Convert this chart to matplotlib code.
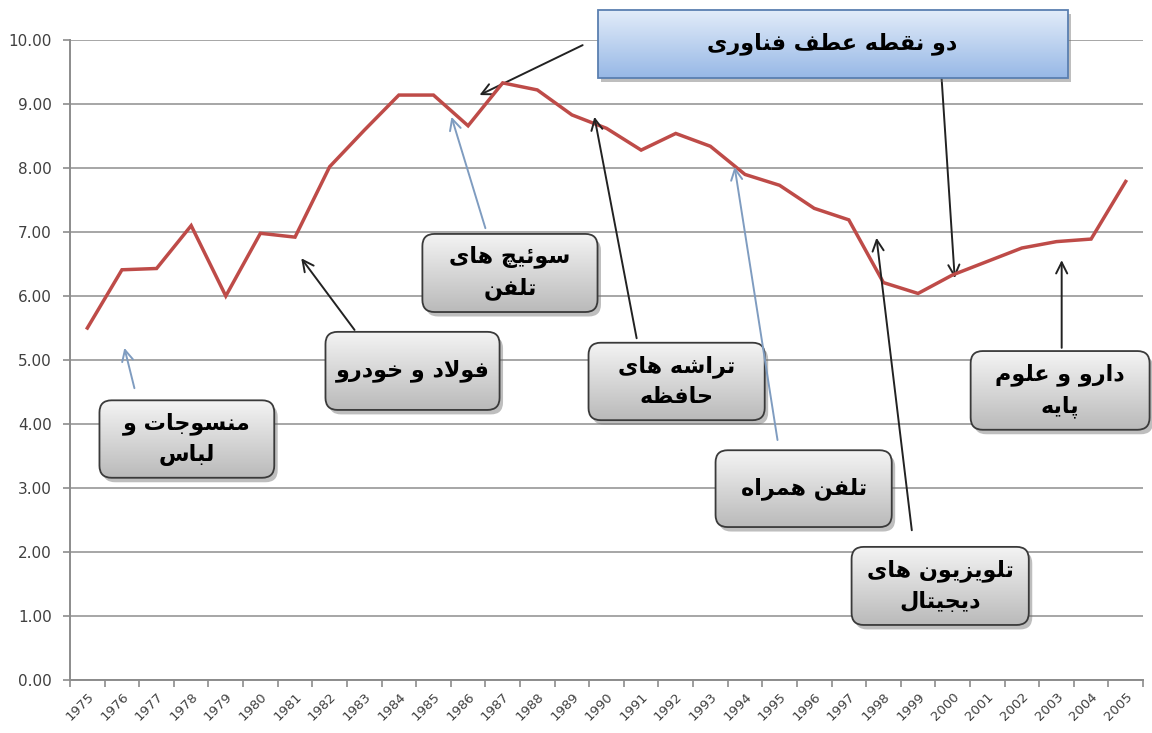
import numpy as np
import matplotlib
matplotlib.use('Agg')
import matplotlib.pyplot as plt
from matplotlib.patches import FancyBboxPatch

# data
years = list(range(1975, 2006))
values = [5.50, 6.41, 6.43, 7.10, 6.00, 6.98, 6.92, 8.02, 8.59, 9.14,
          9.14, 8.66, 9.33, 9.22, 8.83, 8.62, 8.28, 8.54, 8.34, 7.90,
          7.73, 7.37, 7.19, 6.21, 6.04, 6.33, 6.54, 6.75, 6.85, 6.89, 7.79]
y_ticks = [0, 1, 2, 3, 4, 5, 6, 7, 8, 9, 10]

title_label = "دو نقطه عطف فناوری"
labels = ["منسوجات و\nلباس", "فولاد و خودرو", "سوئیچ های\nتلفن", "تراشه های\nحافظه",
          "تلفن همراه", "تلویزیون های\nدیجیتال", "دارو و علوم\nپایه"]

# layout of the callouts (data coords): box (x0, x1, y0, y1), arrow tail, arrow head, arrow colour
BLUE = '#7F9CC0'
boxes = [(1975.35, 1980.40, 3.16, 4.37), (1981.88, 1986.91, 4.22, 5.44),
         (1984.68, 1989.74, 5.75, 6.97), (1989.48, 1994.57, 4.06, 5.27),
         (1993.15, 1998.24, 2.39, 3.59), (1997.08, 2002.20, 0.86, 2.08),
         (2000.52, 2005.69, 3.91, 5.14)]
arrows = [((1976.36, 4.56), (1976.07, 5.19), BLUE), ((1982.72, 5.47), (1981.18, 6.59), '#222222'),
          ((1986.50, 7.06), (1985.52, 8.80), BLUE), ((1990.87, 5.34), (1989.65, 8.80), '#222222'),
          ((1994.94, 3.75), (1993.70, 8.02), BLUE), ((1998.82, 2.34), (1997.80, 6.91), '#222222'),
          ((2003.15, 5.19), (2003.15, 6.56), '#222222')]
title_box = (1989.74, 2003.32, 9.41, 10.47)
title_arrows = [((1989.31, 9.92), (1986.33, 9.14)), ((1999.68, 9.41), (2000.06, 6.28))]

# minimal arabic/persian shaping: (isolated, final, initial, medial)
FORMS = {
    'ا': (0xFE8D, 0xFE8E, None, None), 'ب': (0xFE8F, 0xFE90, 0xFE91, 0xFE92),
    'ت': (0xFE95, 0xFE96, 0xFE97, 0xFE98), 'ج': (0xFE9D, 0xFE9E, 0xFE9F, 0xFEA0),
    'ح': (0xFEA1, 0xFEA2, 0xFEA3, 0xFEA4), 'خ': (0xFEA5, 0xFEA6, 0xFEA7, 0xFEA8),
    'د': (0xFEA9, 0xFEAA, None, None), 'ر': (0xFEAD, 0xFEAE, None, None),
    'ز': (0xFEAF, 0xFEB0, None, None), 'س': (0xFEB1, 0xFEB2, 0xFEB3, 0xFEB4),
    'ش': (0xFEB5, 0xFEB6, 0xFEB7, 0xFEB8), 'ط': (0xFEC1, 0xFEC2, 0xFEC3, 0xFEC4),
    'ظ': (0xFEC5, 0xFEC6, 0xFEC7, 0xFEC8), 'ع': (0xFEC9, 0xFECA, 0xFECB, 0xFECC),
    'ف': (0xFED1, 0xFED2, 0xFED3, 0xFED4), 'ق': (0xFED5, 0xFED6, 0xFED7, 0xFED8),
    'ل': (0xFEDD, 0xFEDE, 0xFEDF, 0xFEE0), 'م': (0xFEE1, 0xFEE2, 0xFEE3, 0xFEE4),
    'ن': (0xFEE5, 0xFEE6, 0xFEE7, 0xFEE8), 'ه': (0xFEE9, 0xFEEA, 0xFEEB, 0xFEEC),
    'و': (0xFEED, 0xFEEE, None, None), 'ئ': (0xFE89, 0xFE8A, 0xFE8B, 0xFE8C),
    'ی': (0xFBFC, 0xFBFD, 0xFBFE, 0xFBFF), 'پ': (0xFB56, 0xFB57, 0xFB58, 0xFB59),
    'چ': (0xFB7A, 0xFB7B, 0xFB7C, 0xFB7D),
}


def dual(c):
    return c in FORMS and FORMS[c][2] is not None


def shape_line(line):
    out = []
    i = 0
    n = len(line)
    while i < n:
        c = line[i]
        if c not in FORMS:
            out.append(c)
            i += 1
            continue
        join_prev = i > 0 and dual(line[i - 1])
        if c == 'ل' and i + 1 < n and line[i + 1] == 'ا':
            out.append(chr(0xFEFC if join_prev else 0xFEFB))
            i += 2
            continue
        join_next = dual(c) and i + 1 < n and line[i + 1] in FORMS
        iso, fin, ini, med = FORMS[c]
        if join_prev and join_next:
            g = med
        elif join_prev:
            g = fin
        elif join_next:
            g = ini
        else:
            g = iso
        out.append(chr(g))
        i += 1
    # matplotlib lays glyphs out left to right, so give it visual order
    return ''.join(reversed(out))


def shape(text):
    return '\n'.join(shape_line(l) for l in text.split('\n'))


def gradient_box(ax, x0, x1, y0, y1, top, bottom, edge, rounded=True):
    style = 'round,pad=0,rounding_size=0.35' if rounded else 'square,pad=0'
    asp = 34.6 / 64.0
    shadow = FancyBboxPatch((x0 + 0.1, y0 - 0.07), x1 - x0, y1 - y0, boxstyle=style,
                            mutation_aspect=asp, fc='#6f6f6f', ec='none', alpha=0.45,
                            zorder=5, clip_on=False)
    ax.add_patch(shadow)
    patch = FancyBboxPatch((x0, y0), x1 - x0, y1 - y0, boxstyle=style, mutation_aspect=asp,
                           fc='none', ec=edge, lw=1.3, zorder=7, clip_on=False)
    ax.add_patch(patch)
    c_top = np.array(matplotlib.colors.to_rgb(top))
    c_bot = np.array(matplotlib.colors.to_rgb(bottom))
    t = np.linspace(0, 1, 64)[:, None]
    grad = (c_top * (1 - t) + c_bot * t)[:, None, :]
    im = ax.imshow(grad, extent=(x0, x1, y0, y1), origin='upper', aspect='auto',
                   zorder=6, interpolation='bilinear')
    im.set_clip_path(patch)
    im.set_clip_box(ax.figure.bbox)


fig = plt.figure(figsize=(11.52, 7.33), dpi=100)
ax = fig.add_axes([0.0608, 0.0723, 0.9314, 0.8731])

ax.plot(years, values, color='#BE4B48', lw=2.5, zorder=4, solid_joinstyle='miter')

ax.set_xlim(1974.5, 2005.5)
ax.set_ylim(0, 10)
ax.set_yticks(y_ticks)
ax.set_yticklabels(['%.2f' % v for v in y_ticks], fontsize=11, color='#404040')
ax.set_xticks(years)
ax.set_xticklabels([str(y) for y in years], rotation=45, ha='right', rotation_mode='anchor',
                   fontsize=9.5, color='#404040')
ax.set_xticks(np.arange(1974.5, 2006, 1), minor=True)
ax.tick_params(axis='x', which='major', length=0, pad=7)
ax.tick_params(axis='x', which='minor', length=5, color='#8c8c8c', width=1.2)
ax.tick_params(axis='y', length=5, color='#8c8c8c', width=1.2, pad=8)
ax.grid(axis='y', color='#a6a6a6', lw=1.4, zorder=1)
for s in ['top', 'right']:
    ax.spines[s].set_visible(False)
for s in ['left', 'bottom']:
    ax.spines[s].set_color('#8c8c8c')
    ax.spines[s].set_linewidth(1.4)

fp = dict(fontsize=16, fontweight='bold', family='DejaVu Sans', color='black')

for (x0, x1, y0, y1), text in zip(boxes, labels):
    gradient_box(ax, x0, x1, y0, y1, '#f4f4f4', '#bababa', '#3a3a3a')
    ax.text((x0 + x1) / 2, (y0 + y1) / 2, shape(text), ha='center', va='center',
            multialignment='center', linespacing=1.55, zorder=8, **fp)

x0, x1, y0, y1 = title_box
gradient_box(ax, x0, x1, y0, y1, '#e2ecf9', '#97b8e6', '#5a7fb0', rounded=False)
ax.text((x0 + x1) / 2, (y0 + y1) / 2, shape(title_label), ha='center', va='center',
        zorder=8, clip_on=False, **fp)

for tail, head, col in arrows:
    ax.annotate('', xy=head, xytext=tail, zorder=9,
                arrowprops=dict(arrowstyle='->', color=col, lw=1.4, mutation_scale=20,
                                shrinkA=0, shrinkB=0))
for tail, head in title_arrows:
    ax.annotate('', xy=head, xytext=tail, annotation_clip=False,
                arrowprops=dict(arrowstyle='->', color='#222222', lw=1.4, mutation_scale=20,
                                shrinkA=0, shrinkB=0))

ax.set_xlim(1974.5, 2005.5)
ax.set_ylim(0, 10)
fig.savefig('out.png', dpi=100)
